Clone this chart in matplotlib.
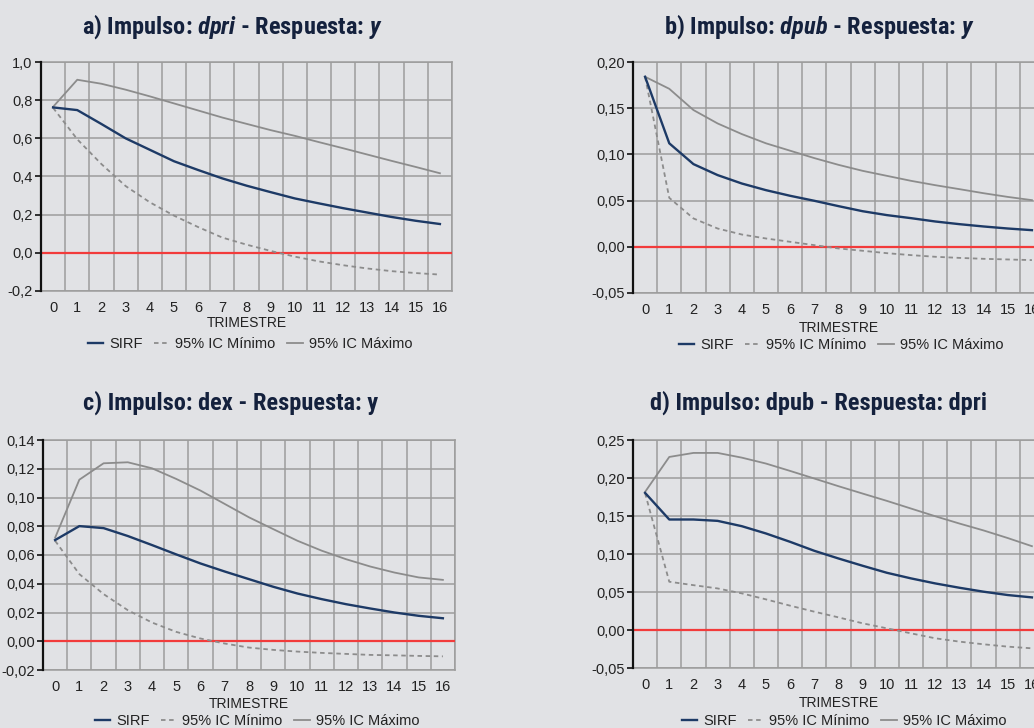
import matplotlib
matplotlib.use("Agg")
import matplotlib.pyplot as plt
from matplotlib import font_manager
from matplotlib.lines import Line2D
from matplotlib.ticker import FuncFormatter, MultipleLocator

# -------------------------
# Data
# -------------------------
steps = list(range(17))

a_sirf = [0.762, 0.748, 0.675, 0.600, 0.540, 0.480, 0.434, 0.390, 0.352, 0.318, 0.285, 0.259, 0.234, 0.211, 0.188, 0.168, 0.151]
a_min = [0.760, 0.595, 0.465, 0.350, 0.265, 0.195, 0.135, 0.080, 0.043, 0.010, -0.020, -0.045, -0.065, -0.082, -0.096, -0.106, -0.114]
a_max = [0.765, 0.907, 0.886, 0.855, 0.820, 0.783, 0.746, 0.709, 0.676, 0.643, 0.613, 0.580, 0.548, 0.515, 0.482, 0.450, 0.417]

b_sirf = [0.184, 0.112, 0.0895, 0.0776, 0.0685, 0.0613, 0.0552, 0.0498, 0.0440, 0.0385, 0.0343, 0.0310, 0.0274, 0.0245, 0.0220, 0.0198, 0.0180]
b_min = [0.184, 0.053, 0.0307, 0.0198, 0.0133, 0.0090, 0.0054, 0.0018, -0.0018, -0.0043, -0.0069, -0.0090, -0.0108, -0.0120, -0.0130, -0.0137, -0.0144]
b_max = [0.184, 0.171, 0.148, 0.1335, 0.122, 0.112, 0.104, 0.096, 0.0887, 0.0822, 0.0768, 0.0714, 0.0667, 0.0624, 0.0580, 0.0540, 0.0505]

c_sirf = [0.0704, 0.0801, 0.0787, 0.0732, 0.0669, 0.0604, 0.0541, 0.0485, 0.0432, 0.0379, 0.0332, 0.0293, 0.0258, 0.0228, 0.0200, 0.0177, 0.0160]
c_min = [0.0699, 0.0467, 0.0328, 0.0216, 0.0130, 0.0065, 0.0019, -0.0016, -0.0044, -0.0060, -0.0072, -0.0081, -0.0088, -0.0095, -0.0098, -0.0102, -0.0105]
c_max = [0.0720, 0.1124, 0.1238, 0.1245, 0.1203, 0.1129, 0.1048, 0.0955, 0.0862, 0.0780, 0.0699, 0.0630, 0.0571, 0.0520, 0.0478, 0.0444, 0.0427]

d_sirf = [0.1804, 0.1454, 0.1454, 0.1436, 0.1366, 0.1270, 0.1160, 0.1042, 0.0941, 0.0845, 0.0753, 0.0679, 0.0613, 0.0556, 0.0504, 0.0460, 0.0429]
d_min = [0.1800, 0.0635, 0.0590, 0.0547, 0.0482, 0.0403, 0.0320, 0.0241, 0.0166, 0.0088, 0.0022, -0.0044, -0.0109, -0.0153, -0.0188, -0.0219, -0.0241]
d_max = [0.1817, 0.2277, 0.2330, 0.2330, 0.2268, 0.2190, 0.2093, 0.1993, 0.1892, 0.1795, 0.1699, 0.1598, 0.1497, 0.1401, 0.1310, 0.1210, 0.1103]

titles = [
    "a) Impulso: $dpri$ - Respuesta: $y$",
    "b) Impulso: $dpub$ - Respuesta: $y$",
    "c) Impulso: dex - Respuesta: y",
    "d) Impulso: dpub - Respuesta: dpri",
]
series_names = ["SIRF", "95% IC Mínimo", "95% IC Máximo"]
x_label = "TRIMESTRE"

# -------------------------
# Fonts
# -------------------------
def pick_font(names):
    for name in names:
        try:
            font_manager.findfont(font_manager.FontProperties(family=name), fallback_to_default=False)
            return name
        except Exception:
            pass
    return "DejaVu Sans"

title_font = pick_font(["Liberation Sans Narrow", "Roboto Condensed", "Open Sans Condensed", "Roboto"])
body_font = pick_font(["Liberation Sans", "Arial", "DejaVu Sans"])

plt.rcParams["font.family"] = body_font
plt.rcParams["mathtext.fontset"] = "custom"
plt.rcParams["mathtext.it"] = f"{title_font}:italic:bold"
plt.rcParams["mathtext.rm"] = f"{title_font}:bold"

# -------------------------
# Colors
# -------------------------
bg = "#e1e2e5"
navy = "#1d3a66"
gray = "#8c8c8c"
grid_col = "#9c9c9c"
red = "#f23b3b"
title_col = "#14213d"
text_col = "#222222"

# -------------------------
# Layout (pixels of a 1034x728 canvas)
# -------------------------
W, H = 1034, 728
panels = [
    dict(sirf=a_sirf, lo=a_min, hi=a_max, ylim=(-0.2, 1.0), step=0.2, dec=1,
         box=(41, 62, 411, 229), title=(232, 27), xlab=323, leg=(250, 344)),
    dict(sirf=b_sirf, lo=b_min, hi=b_max, ylim=(-0.05, 0.20), step=0.05, dec=2,
         box=(633, 62, 411, 231), title=(819, 27), xlab=328, leg=(841, 345)),
    dict(sirf=c_sirf, lo=c_min, hi=c_max, ylim=(-0.02, 0.14), step=0.02, dec=2,
         box=(43, 440, 412, 230), title=(231, 403), xlab=704, leg=(257, 721)),
    dict(sirf=d_sirf, lo=d_min, hi=d_max, ylim=(-0.05, 0.25), step=0.05, dec=2,
         box=(633, 440, 411, 228), title=(819, 403), xlab=703, leg=(844, 721)),
]

fig = plt.figure(figsize=(W / 100, H / 100), dpi=100, facecolor=bg)

for p, title in zip(panels, titles):
    x0, y0, w, h = p["box"]
    ax = fig.add_axes([x0 / W, 1 - (y0 + h) / H, w / W, h / H])
    ax.set_facecolor(bg)

    ax.axhline(0, color=red, linewidth=1.6, zorder=3)
    ax.plot(steps, p["lo"], color=gray, linewidth=1.3, linestyle=(0, (2.5, 2)), zorder=4)
    ax.plot(steps, p["hi"], color=gray, linewidth=1.3, zorder=4)
    ax.plot(steps, p["sirf"], color=navy, linewidth=1.7, zorder=5)

    ax.set_xlim(-0.5, 16.5)
    ax.set_ylim(*p["ylim"])
    ax.set_xticks(steps)
    ax.set_xticks([i - 0.5 for i in range(18)], minor=True)
    ax.yaxis.set_major_locator(MultipleLocator(p["step"]))
    dec = p["dec"]
    ax.yaxis.set_major_formatter(FuncFormatter(lambda v, pos, d=dec: f"{v:.{d}f}".replace(".", ",")))

    ax.grid(True, which="minor", axis="x", color=grid_col, linewidth=1.1)
    ax.grid(True, which="major", axis="y", color=grid_col, linewidth=1.1)
    ax.set_axisbelow(True)

    for side in ["top", "right", "bottom"]:
        ax.spines[side].set_color(grid_col)
        ax.spines[side].set_linewidth(1.1)
    ax.spines["left"].set_color("#111111")
    ax.spines["left"].set_linewidth(1.6)
    ax.spines["left"].set_zorder(6)

    ax.tick_params(axis="x", which="both", length=0, labelsize=10.5, colors=text_col, pad=7)
    ax.tick_params(axis="y", which="major", length=4, width=1.2, color="#111111",
                   labelsize=10.5, labelcolor=text_col, pad=2)

    fig.text(p["title"][0] / W, 1 - p["title"][1] / H, title, ha="center", va="center",
             fontsize=17.6, fontweight="bold", family=title_font, color=title_col)
    fig.text((x0 + w / 2) / W, 1 - p["xlab"] / H, x_label, ha="center", va="center",
             fontsize=10, color=text_col)

    handles = [
        Line2D([], [], color=navy, linewidth=1.7),
        Line2D([], [], color=gray, linewidth=1.3, linestyle=(0, (2.5, 2))),
        Line2D([], [], color=gray, linewidth=1.3),
    ]
    fig.legend(handles, series_names, loc="center", ncol=3, frameon=False,
               bbox_to_anchor=(p["leg"][0] / W, 1 - p["leg"][1] / H),
               fontsize=10.5, handlelength=1.05, handletextpad=0.4, columnspacing=0.8,
               labelcolor=text_col, borderpad=0, borderaxespad=0)

fig.savefig("out.png", dpi=100, facecolor=bg)
